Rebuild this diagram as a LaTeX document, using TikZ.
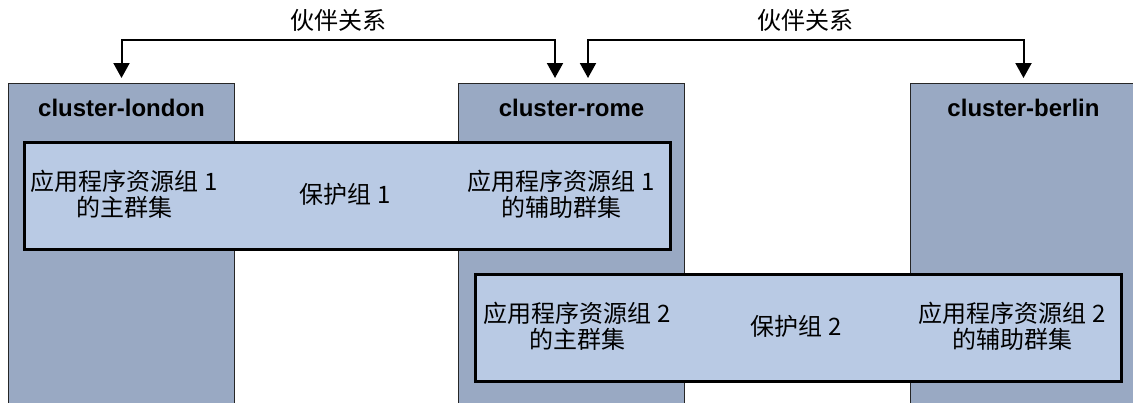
\documentclass[tikz,border=0pt]{standalone}
\usepackage{fontspec}
\setmainfont{Liberation Sans}
\newfontfamily\cjk{Noto Sans CJK SC}
\usetikzlibrary{arrows.meta,calc}
\definecolor{clusterblue}{HTML}{99A9C3}
\definecolor{groupblue}{HTML}{B9CAE4}
\begin{document}
\begin{tikzpicture}[x=1pt,y=-1pt,>={Triangle[width=16pt,length=15pt]},
    cluster/.style={draw=black!85,line width=1pt,fill=clusterblue,anchor=north west,
        inner sep=0pt,minimum width=226pt,minimum height=340pt},
    clustername/.style={font=\fontsize{24}{27}\selectfont\bfseries},
    group/.style={draw=black,line width=2.5pt,fill=groupblue,anchor=north west,
        inner sep=0pt,minimum width=646pt,minimum height=107pt},
    grouptext/.style={font=\fontsize{24}{26}\selectfont\cjk,align=center},
    linklabel/.style={font=\fontsize{24}{26}\selectfont\cjk,yshift=20pt},
    partner/.style={<->,line width=2pt,shorten <=5pt,shorten >=5pt}]
            \useasboundingbox (0,0) rectangle (1133,402);
            \clip (0,0) rectangle (1133,402);

            % draw the clusters
            \node[cluster] (london) at (8,83) {};
            \node[cluster] (rome) at (458,83) {};
            \node[cluster] (berlin) at (910,83) {};
            \node[clustername] (londonname) at ($(london.north)+(0,25)$) {cluster-london};
            \node[clustername] (romename) at ($(rome.north)+(0,25)$) {cluster-rome};
            \node[clustername] (berlinname) at ($(berlin.north)+(0,25)$) {cluster-berlin};

            % protection group 1
            \node[group] (pg1) at (23,141) {};
            \node[grouptext] (pg1primary) at (124,194) {应用程序资源组 1\\的主群集};
            \node[grouptext] (pg1name) at (345,194) {保护组 1};
            \node[grouptext] (pg1secondary) at (561,194) {应用程序资源组 1\\的辅助群集};

            % protection group 2
            \node[group] (pg2) at (474,273) {};
            \node[grouptext] (pg2primary) at (577,326) {应用程序资源组 2\\的主群集};
            \node[grouptext] (pg2name) at (796,326) {保护组 2};
            \node[grouptext] (pg2secondary) at (1012,326) {应用程序资源组 2\\的辅助群集};

            % partnerships
            \draw[partner] (london.north) -- ++(0,-43)
                -- node[linklabel] (link1) {伙伴关系} ($(rome.north)+(-16.5,-43)$)
                -- ($(rome.north)+(-16.5,0)$);
            \draw[partner] ($(rome.north)+(16.5,0)$) -- ++(0,-43)
                -- node[linklabel] (link2) {伙伴关系} ($(berlin.north)+(0,-43)$)
                -- (berlin.north);
\end{tikzpicture}
\end{document}
